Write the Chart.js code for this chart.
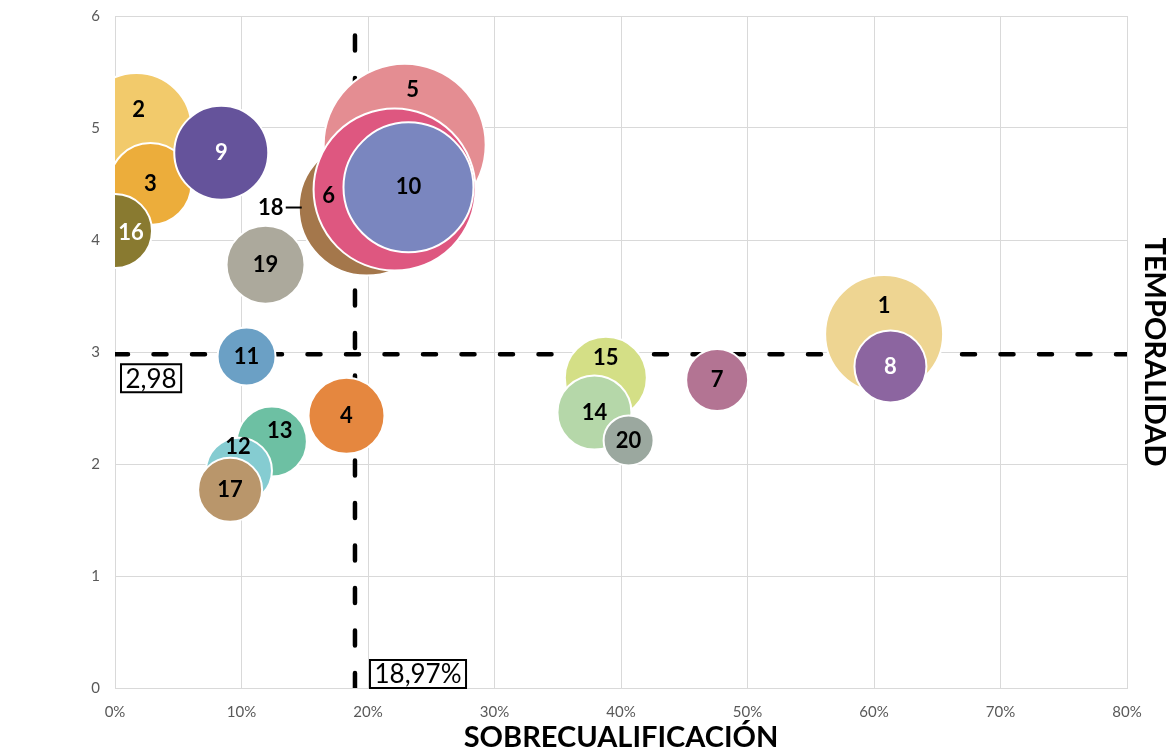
<!DOCTYPE html>
<html>
<head>
<meta charset="utf-8">
<script src="https://cdn.jsdelivr.net/npm/chart.js@4.4.1/dist/chart.umd.min.js"></script>
<style>
  html, body { margin: 0; padding: 0; background: #fff; }
  canvas { display: block; }
</style>
</head>
<body>
<canvas id="grafico" width="1169" height="753"></canvas>
<script>
// datos de cada burbuja (en orden de dibujo)
const ids = [1, 2, 3, 4, 18, 5, 6, 7, 8, 9, 10, 11, 13, 12, 15, 14, 16, 17, 19, 20];
const sobrecualificacion = [60.8, 1.7, 2.8, 18.3, 19.9, 22.9, 22.1, 47.6, 61.3, 8.4, 23.2, 10.4, 12.4, 9.8, 38.8, 37.9, 0.0, 9.1, 11.9, 40.6];
const temporalidad = [3.16, 5.00, 4.50, 2.43, 4.29, 4.85, 4.45, 2.75, 2.87, 4.78, 4.47, 2.96, 2.20, 1.94, 2.77, 2.46, 4.08, 1.77, 3.78, 2.21];
const tamanos = [59, 55, 41, 38, 68, 81, 81, 31, 36, 47, 65, 29, 35, 33, 41, 37, 37, 32, 39, 25];

// medias
const mediaSobre = 18.97;
const mediaTemp = 2.98;

const xTicks = [0, 10, 20, 30, 40, 50, 60, 70, 80];
const yTicks = [0, 1, 2, 3, 4, 5, 6];

const colores = {
  1: '#EED592', 2: '#F2CA6B', 3: '#ECAD3B', 4: '#E5873F', 5: '#E48D92',
  6: '#DE5780', 7: '#B37493', 8: '#8C65A0', 9: '#65539B', 10: '#7A86BF',
  11: '#6BA0C5', 12: '#85CCD1', 13: '#6DC0A3', 14: '#B5D7A9', 15: '#D4DF86',
  16: '#897A30', 17: '#B9966B', 18: '#A4774B', 19: '#ACA99C', 20: '#9BA89F'
};
const textoBlanco = [8, 9, 16];
// etiquetas movidas a mano (px)
const desplaz = {
  1: [0, -28], 2: [2, -18], 5: [8, -55], 6: [-66, 6], 12: [-1, -24],
  13: [8, -11], 15: [0, -20], 16: [16, 2], 18: [-96, 0]
};

const fmt = v => v.toFixed(2).replace('.', ',');

const etiquetas = {
  id: 'etiquetas',
  afterDatasetsDraw(chart) {
    const ctx = chart.ctx;
    const meta = chart.getDatasetMeta(0);
    ctx.save();
    ctx.font = 'bold 22px Lato';
    ctx.textAlign = 'center';
    ctx.textBaseline = 'middle';
    meta.data.forEach((el, i) => {
      const id = ids[i];
      const d = desplaz[id] || [0, 0];
      ctx.fillStyle = textoBlanco.includes(id) ? '#ffffff' : '#000000';
      ctx.fillText(String(id), el.x + d[0], el.y + d[1]);
      if (id === 18) {
        ctx.strokeStyle = '#000';
        ctx.lineWidth = 2;
        ctx.beginPath();
        ctx.moveTo(el.x + d[0] + 15, el.y);
        ctx.lineTo(el.x + d[0] + 31, el.y);
        ctx.stroke();
      }
    });

    // cajas con los valores medios
    const xs = chart.scales.x, ys = chart.scales.y;
    ctx.font = '26px Lato';
    ctx.textAlign = 'left';
    const caja = (txt, left, top) => {
      const w = ctx.measureText(txt).width + 9;
      ctx.fillStyle = '#fff';
      ctx.fillRect(left, top, w, 28);
      ctx.strokeStyle = '#000';
      ctx.lineWidth = 2;
      ctx.strokeRect(left, top, w, 28);
      ctx.fillStyle = '#000';
      ctx.fillText(txt, left + 4.5, top + 15);
    };
    caja(fmt(mediaTemp), xs.getPixelForValue(0) + 6, ys.getPixelForValue(mediaTemp) + 10);
    caja(fmt(mediaSobre) + '%', xs.getPixelForValue(mediaSobre) + 15, ys.getPixelForValue(0) - 28);
    ctx.restore();
  }
};

new Chart(document.getElementById('grafico'), {
  type: 'bubble',
  data: {
    datasets: [
      {
        data: ids.map((id, i) => ({ x: sobrecualificacion[i], y: temporalidad[i], r: tamanos[i] })),
        backgroundColor: ids.map(id => colores[id]),
        borderColor: '#ffffff',
        borderWidth: 2,
        clip: 0,
        order: 0
      },
      {
        type: 'line',
        data: [{ x: mediaSobre, y: 0 }, { x: mediaSobre, y: 6 }],
        borderColor: '#000',
        borderWidth: 4.5,
        borderDash: [15, 27.5],
        borderCapStyle: 'round',
        pointRadius: 0,
        order: 1
      },
      {
        type: 'line',
        data: [{ x: 0, y: mediaTemp }, { x: 80, y: mediaTemp }],
        borderColor: '#000',
        borderWidth: 4.5,
        borderDash: [13, 25.5],
        borderCapStyle: 'round',
        pointRadius: 0,
        order: 1
      }
    ]
  },
  options: {
    responsive: false,
    animation: false,
    layout: { autoPadding: false, padding: { top: 16, left: 0, right: 0, bottom: 0 } },
    plugins: { legend: { display: false }, tooltip: { enabled: false } },
    scales: {
      x: {
        type: 'linear',
        min: 0, max: 80,
        afterBuildTicks: s => { s.ticks = xTicks.map(v => ({ value: v })); },
        afterFit: s => { s.height = 65; },
        grid: { color: '#D9D9D9', drawTicks: true, tickLength: 12, tickColor: 'rgba(0,0,0,0)' },
        border: { color: '#D9D9D9' },
        ticks: {
          padding: 3,
          color: '#595959',
          font: { family: 'Lato', size: 15 },
          callback: v => v + '%'
        },
        title: {
          display: true,
          text: 'SOBRECUALIFICACIÓN',
          color: '#000',
          font: { family: 'Lato', size: 29, weight: 'bold', lineHeight: 1 },
          padding: { top: 0, bottom: 1 }
        }
      },
      y: {
        type: 'linear',
        min: 0, max: 6,
        afterBuildTicks: s => { s.ticks = yTicks.map(v => ({ value: v })); },
        afterFit: s => { s.width = 115; },
        grid: { color: '#D9D9D9', drawTicks: true, tickLength: 12, tickColor: 'rgba(0,0,0,0)' },
        border: { color: '#D9D9D9' },
        ticks: {
          padding: 3,
          color: '#595959',
          font: { family: 'Lato', size: 15 }
        }
      },
      y2: {
        type: 'linear',
        position: 'right',
        afterFit: s => { s.width = 42; },
        grid: { display: false, drawTicks: false },
        border: { display: false },
        ticks: { display: false },
        title: {
          display: true,
          text: 'TEMPORALIDAD',
          color: '#000',
          font: { family: 'Lato', size: 29, weight: 'bold', lineHeight: 1 },
          padding: { top: 0, bottom: 0 }
        }
      }
    }
  },
  plugins: [etiquetas]
});
</script>
</body>
</html>
